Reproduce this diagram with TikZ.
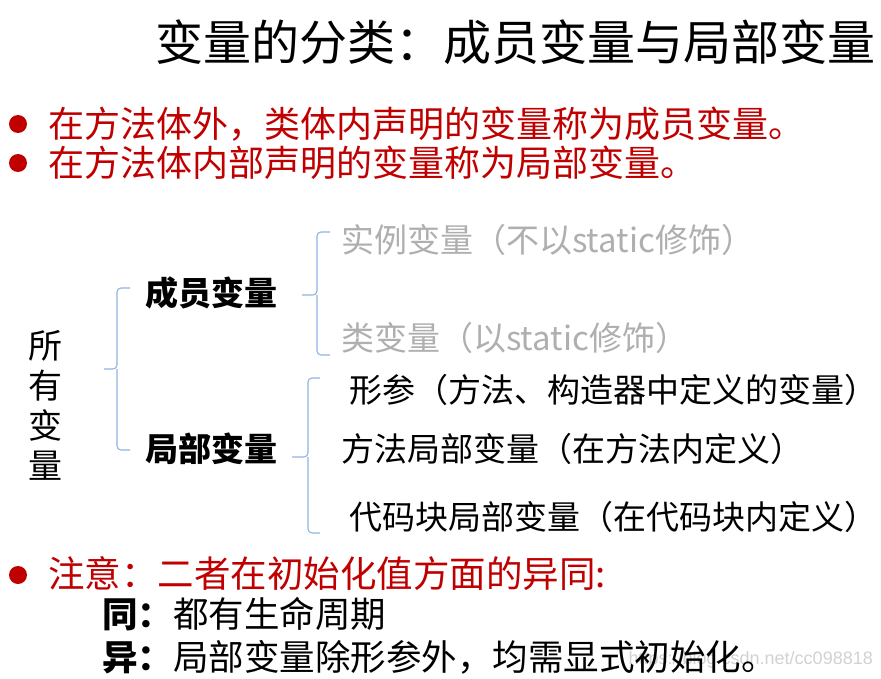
\documentclass[tikz,border=0pt]{standalone}
\usepackage{fontspec}
\setmainfont{Liberation Sans}
\newfontfamily\cjk{Noto Sans CJK SC}
\definecolor{myred}{RGB}{192,0,0}
\definecolor{mygray}{RGB}{175,175,175}
\definecolor{braceblue}{RGB}{143,180,227}
\tikzset{
  txt/.style={anchor=west,inner sep=0pt,font=\cjk},
  title/.style={txt,font=\cjk\fontsize{48}{52}\selectfont},
  redtxt/.style={txt,text=myred,font=\cjk\fontsize{36}{40}\selectfont},
  bullet/.style={circle,fill=myred,minimum size=18pt,inner sep=0pt},
  bracket/.style={draw=braceblue,line width=1.1pt,rounded corners=4pt},
  lbl/.style={txt,font=\cjk\bfseries\fontsize{33}{36}\selectfont},
  sub/.style={txt,font=\cjk\fontsize{33}{36}\selectfont},
  graysub/.style={sub,text=mygray},
  body/.style={txt,font=\cjk\fontsize{35.5}{38}\selectfont}
}
\begin{document}
\begin{tikzpicture}[x=1pt,y=-1pt]
\useasboundingbox (0,0) rectangle (881,679);
\fill[white] (0,0) rectangle (881,679);
% title
\node[title] (t) at (155,42) {变量的分类：成员变量与局部变量};
% bullets
\node[bullet] (b1) at (18,124) {};
\node[redtxt] (l1) at (48,124) {在方法体外，类体内声明的变量称为成员变量。};
\node[bullet] (b2) at (18,163) {};
\node[redtxt] (l2) at (48,163) {在方法体内部声明的变量称为局部变量。};
% all variables
\node[inner sep=0pt,font=\cjk\fontsize{34}{40}\selectfont,align=center] (all) at (45,405) {所\\[0pt]有\\[0pt]变\\[0pt]量};
% brackets
\draw[bracket] (130,288) -- (117,288) -- (117,369) -- (104,369);
\draw[bracket] (117,369) -- (117,450) -- (130,450);
\draw[bracket] (330,232) -- (317,232) -- (317,295) -- (302,295);
\draw[bracket] (317,295) -- (317,355) -- (330,355);
\draw[bracket] (320,378) -- (308,378) -- (308,457) -- (292,457);
\draw[bracket] (308,457) -- (308,533) -- (320,533);
% level 1
\node[lbl] (m) at (145,293) {成员变量};
\node[lbl] (loc) at (145,449) {局部变量};
% level 2
\node[graysub] (inst) at (341,240) {实例变量（不以static修饰）};
\node[graysub] (cls) at (341,338) {类变量（以static修饰）};
\node[sub] (p) at (349,390) {形参（方法、构造器中定义的变量）};
\node[sub] (ml) at (341,449) {方法局部变量（在方法内定义）};
\node[sub] (bl) at (349,517) {代码块局部变量（在代码块内定义）};
% note
\node[bullet] (b3) at (18,575) {};
\node[redtxt,font=\cjk\fontsize{36.5}{40}\selectfont] (n) at (48,574) {注意：二者在初始化值方面的异同:};
\node[gray!35,anchor=east,inner sep=0pt,font=\fontsize{18}{20}\selectfont] (wm) at (873,660) {https://blog.csdn.net/cc098818};
\node[body] (same) at (102,614) {{\bfseries 同：}都有生命周期};
\node[body] (diff) at (102,657) {{\bfseries 异：}局部变量除形参外，均需显式初始化。};
\end{tikzpicture}
\end{document}
